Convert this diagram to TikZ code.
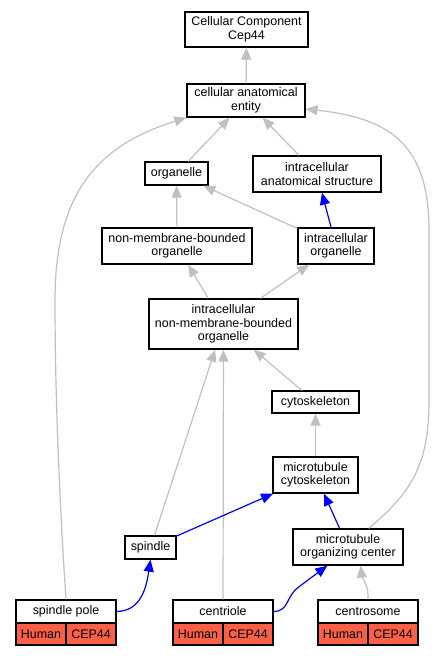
\documentclass[tikz,border=0pt]{standalone}
\usepackage{fontspec}
\setmainfont{Liberation Sans}
\usetikzlibrary{arrows.meta}
\definecolor{edgegray}{RGB}{192,192,192}
\definecolor{genefill}{RGB}{250,96,72}
\begin{document}
\begin{tikzpicture}[x=1bp,y=-1bp,
  box/.style={draw=black, line width=1.3bp, fill=white, inner sep=0pt, align=center,
              font=\fontsize{12.5}{13.5}\selectfont},
  cell/.style={box, fill=genefill, minimum width=50bp, minimum height=22bp},
  head/.style={box, minimum width=100bp, minimum height=23bp},
  isa/.style={draw=edgegray, line width=1.2bp, -{Triangle[length=12bp,width=10bp]}},
  partof/.style={draw=blue, line width=1.2bp, -{Triangle[length=12bp,width=10bp]}}
]
\useasboundingbox (0,0) rectangle (436,656);

% GO term nodes
\node[box, minimum width=123bp, minimum height=35bp] (cc) at (246.5,29.5) {Cellular Component\\Cep44};
\node[box, minimum width=118bp, minimum height=33bp] (ent) at (246,100.5) {cellular anatomical\\entity};
\node[box, minimum width=63bp, minimum height=23bp] (org) at (176.5,173.5) {organelle};
\node[box, minimum width=128bp, minimum height=36bp] (ias) at (317,174) {intracellular\\anatomical structure};
\node[box, minimum width=150bp, minimum height=36bp] (nmbo) at (177,246) {non-membrane-bounded\\organelle};
\node[box, minimum width=76bp, minimum height=36bp] (io) at (336,246) {intracellular\\organelle};
\node[box, minimum width=149bp, minimum height=50bp] (inmbo) at (223.5,324) {intracellular\\non-membrane-bounded\\organelle};
\node[box, minimum width=87bp, minimum height=22bp] (cyto) at (315.5,402) {cytoskeleton};
\node[box, minimum width=85bp, minimum height=36bp] (mtc) at (315.5,475) {microtubule\\cytoskeleton};
\node[box, minimum width=51bp, minimum height=23bp] (spin) at (150.5,547.5) {spindle};
\node[box, minimum width=110bp, minimum height=36bp] (mtoc) at (348,547) {microtubule\\organizing center};

% gene-annotated nodes
\node[head] (sp) at (66,611.5) {spindle pole};
\node[cell] (sph) at (41,634) {Human};
\node[cell] (spg) at (91,634) {CEP44};
\node[head] (cen) at (223,611.5) {centriole};
\node[cell] (cenh) at (198,634) {Human};
\node[cell] (ceng) at (248,634) {CEP44};
\node[head] (cs) at (368,611.5) {centrosome};
\node[cell] (csh) at (343,634) {Human};
\node[cell] (csg) at (393,634) {CEP44};

% is_a edges (gray)
\draw[isa] (ent) -- (cc);
\draw[isa] (org) -- (ent);
\draw[isa] (ias) -- (ent);
\draw[isa] (nmbo) -- (org);
\draw[isa] (io) -- (org);
\draw[isa] (inmbo) -- (nmbo);
\draw[isa] (inmbo) -- (io);
\draw[isa] (spin) -- (inmbo);
\draw[isa] (cen) -- (inmbo);
\draw[isa] (cyto) -- (inmbo);
\draw[isa] (mtc) -- (cyto);
\draw[isa] (sp.north) .. controls (62,540) and (55,420) .. (55,300)
      .. controls (55,190) and (100,145) .. (ent.south west);
\draw[isa] (mtoc.42) .. controls (415,490) and (429,460) .. (429,400)
      -- (429,230) .. controls (429,140) and (385,118) .. (ent.-8);
\draw[isa] (cs.north) .. controls (369,585) and (362,578) .. (mtoc.-56);

% part_of edges (blue)
\draw[partof] (io) -- (ias);
\draw[partof] (spin) -- (mtc);
\draw[partof] (mtoc) -- (mtc);
\draw[partof] (sp.east) .. controls (140,611) and (146,590) .. (spin.south);
\draw[partof] (cen.east) .. controls (290,611) and (285,596) .. (300,586) -- (mtoc.222);
\end{tikzpicture}
\end{document}
